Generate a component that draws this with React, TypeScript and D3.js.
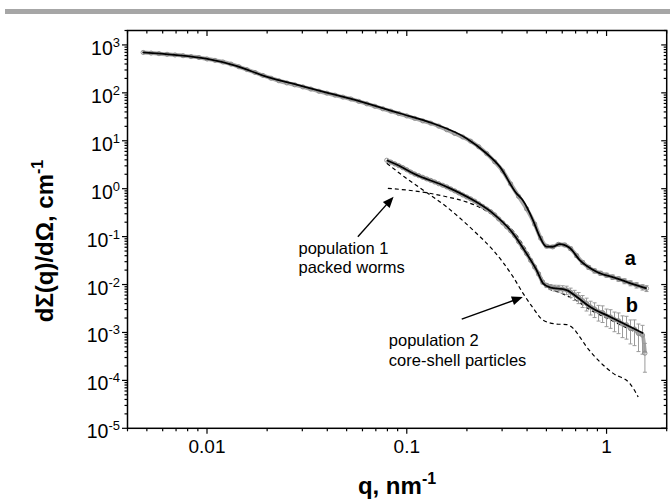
import React from 'react';
import * as d3 from 'd3';

const W = 670;
const H = 504;
const FONT = "Arial, 'Liberation Sans', Helvetica, sans-serif";

// axis ticks
const xTickValues = [0.01, 0.1, 1];
const xTickLabels = ['0.01', '0.1', '1'];
const yTickExponents = [-5, -4, -3, -2, -1, 0, 1, 2, 3];

// curve a: measured data [q, I, relative error]
const aData: [number, number, number][] = [
  [0.00479, 697, 0], [0.00525, 676, 0], [0.00575, 658, 0], [0.00631, 637, 0],
  [0.00692, 617, 0], [0.00759, 596, 0], [0.00832, 571, 0], [0.00912, 546, 0],
  [0.0100, 510, 0], [0.01096, 476, 0], [0.01202, 440, 0], [0.01318, 398, 0],
  [0.01445, 350, 0], [0.01585, 305, 0], [0.01738, 266, 0], [0.01905, 231, 0],
  [0.0209, 202, 0], [0.0229, 179, 0], [0.0251, 161, 0], [0.0275, 147, 0],
  [0.0302, 133, 0], [0.0331, 120, 0], [0.0363, 108, 0], [0.0398, 98.5, 0],
  [0.0437, 89.5, 0], [0.0479, 81.5, 0], [0.0525, 74.5, 0], [0.0575, 66.5, 0],
  [0.0631, 59.0, 0], [0.0692, 52.5, 0], [0.0759, 46.5, 0], [0.0832, 41.5, 0],
  [0.0912, 37.0, 0], [0.100, 33.0, 0], [0.1096, 29.3, 0], [0.1202, 26.0, 0],
  [0.1318, 23.3, 0], [0.1445, 20.2, 0], [0.1585, 17.0, 0], [0.1738, 14.2, 0],
  [0.1905, 12.0, 0], [0.2089, 9.8, 0], [0.2291, 7.5, 0], [0.2512, 5.4, 0],
  [0.2754, 3.65, 0], [0.302, 2.34, 0], [0.331, 1.26, 0.04], [0.363, 0.69, 0.05],
  [0.398, 0.38, 0.05], [0.437, 0.182, 0.06], [0.468, 0.093, 0.06], [0.501, 0.063, 0.07],
  [0.537, 0.061, 0.07], [0.575, 0.069, 0.07], [0.617, 0.067, 0.08], [0.661, 0.056, 0.08],
  [0.708, 0.040, 0.08], [0.759, 0.0288, 0.09], [0.813, 0.0229, 0.09], [0.871, 0.0193, 0.1],
  [0.933, 0.0172, 0.1], [1.000, 0.0157, 0.1], [1.072, 0.0143, 0.11], [1.148, 0.0131, 0.11],
  [1.230, 0.0118, 0.12], [1.318, 0.0107, 0.12], [1.413, 0.0097, 0.13], [1.514, 0.0088, 0.13],
  [1.585, 0.0083, 0.14],
];

// curve a: model fit [q, I]
const aFit: [number, number][] = [
  [0.00475, 697], [0.00686, 618], [0.00989, 515], [0.0140, 365], [0.0198, 218],
  [0.0290, 143], [0.0410, 98], [0.0516, 77], [0.092, 37.5], [0.1346, 23.2],
  [0.1986, 11.3], [0.250, 5.48], [0.292, 2.88], [0.354, 0.80], [0.380, 0.58],
  [0.428, 0.222], [0.463, 0.0995], [0.500, 0.0616], [0.538, 0.0615], [0.583, 0.070],
  [0.655, 0.0578], [0.734, 0.0324], [0.891, 0.0185], [1.122, 0.0135], [1.355, 0.0102],
  [1.587, 0.0083],
];

// curve b: measured data [q, I, relative error]
const bData: [number, number, number][] = [
  [0.0794, 3.92, 0], [0.0832, 3.59, 0], [0.0871, 3.30, 0], [0.0912, 3.03, 0],
  [0.0955, 2.75, 0], [0.100, 2.48, 0], [0.1047, 2.22, 0], [0.1096, 2.02, 0],
  [0.1148, 1.87, 0], [0.1202, 1.73, 0], [0.1259, 1.60, 0], [0.1318, 1.49, 0],
  [0.138, 1.38, 0], [0.1445, 1.27, 0], [0.1514, 1.18, 0], [0.1585, 1.09, 0],
  [0.166, 0.99, 0], [0.1738, 0.90, 0], [0.182, 0.817, 0], [0.1905, 0.741, 0],
  [0.1995, 0.673, 0], [0.2089, 0.612, 0], [0.2188, 0.550, 0], [0.2291, 0.484, 0],
  [0.2399, 0.427, 0], [0.2512, 0.376, 0], [0.263, 0.331, 0], [0.2754, 0.284, 0],
  [0.2884, 0.234, 0], [0.302, 0.194, 0], [0.3162, 0.160, 0], [0.3311, 0.132, 0],
  [0.3467, 0.105, 0], [0.3631, 0.0785, 0.03], [0.3802, 0.0589, 0.03], [0.398, 0.0441, 0.04],
  [0.417, 0.032, 0.05], [0.4365, 0.0232, 0.06], [0.457, 0.0166, 0.07], [0.4786, 0.0112, 0.08],
  [0.501, 0.0096, 0.1], [0.5248, 0.0089, 0.12], [0.5495, 0.0085, 0.14], [0.5754, 0.0083, 0.16],
  [0.6026, 0.0080, 0.18], [0.631, 0.0077, 0.2], [0.6607, 0.0069, 0.22], [0.6918, 0.0061, 0.24],
  [0.7244, 0.0054, 0.26], [0.7586, 0.0046, 0.28], [0.7943, 0.0040, 0.3], [0.8318, 0.0034, 0.32],
  [0.871, 0.0031, 0.34], [0.912, 0.0027, 0.36], [0.955, 0.0026, 0.38], [1.000, 0.0022, 0.4],
  [1.047, 0.0021, 0.42], [1.096, 0.00185, 0.44], [1.148, 0.00175, 0.46], [1.202, 0.00150, 0.48],
  [1.259, 0.00145, 0.5], [1.318, 0.00120, 0.52], [1.380, 0.00118, 0.55], [1.445, 0.00095, 0.58],
  [1.514, 0.00088, 0.6], [1.556, 0.00037, 0.6],
];

// curve b: model fit [q, I]
const bFit: [number, number][] = [
  [0.0794, 3.92], [0.092, 2.98], [0.1074, 2.10], [0.158, 1.10], [0.2145, 0.58],
  [0.270, 0.306], [0.340, 0.117], [0.397, 0.0448], [0.446, 0.0201], [0.481, 0.0106],
  [0.520, 0.00875], [0.631, 0.00768], [0.708, 0.00556], [0.825, 0.00344], [1.039, 0.00213],
  [1.259, 0.00143], [1.526, 0.00096],
];

// population 1 (packed worms) [q, I]
const pop1: [number, number][] = [
  [0.0804, 1.02], [0.1253, 0.825], [0.158, 0.68], [0.1986, 0.53], [0.2145, 0.47],
  [0.270, 0.282], [0.354, 0.108], [0.413, 0.039], [0.463, 0.0166], [0.508, 0.0085],
  [0.583, 0.0068], [0.695, 0.0048], [0.825, 0.0030], [1.039, 0.00185], [1.52, 0.00085],
];

// population 2 (core-shell particles) [q, I]
const pop2: [number, number][] = [
  [0.0794, 3.4], [0.0975, 1.75], [0.1205, 0.94], [0.158, 0.42], [0.2145, 0.137],
  [0.270, 0.0525], [0.340, 0.0146], [0.382, 0.00655], [0.429, 0.00323], [0.481, 0.00181],
  [0.561, 0.0015], [0.631, 0.00146], [0.681, 0.00122], [0.734, 0.00081], [0.794, 0.000502],
  [0.925, 0.000244], [1.079, 0.00014], [1.309, 0.000086], [1.44, 0.000045],
];

// annotations (data coordinates)
const arrows = [
  { from: [0.0569, 0.0995], to: [0.0859, 0.681] },
  { from: [0.1884, 0.0019], to: [0.381, 0.00548] },
];
const notes = [
  { q: 0.0287, I: 0.0434, lines: ['population 1', 'packed worms'] },
  { q: 0.0813, I: 0.00052, lines: ['population 2', 'core-shell particles'] },
];
const curveLabels = [
  { q: 1.235, I: 0.0255, text: 'a' },
  { q: 1.249, I: 0.0027, text: 'b' },
];

export default function App() {
  const left = 127.5, right = 666.7, top = 30.5, bottom = 428.3;
  const x = d3.scaleLog().domain([0.004, 2]).range([left, right]);
  const y = d3.scaleLog().domain([1e-5, 2e3]).range([bottom, top]);

  const line = d3
    .line<[number, number]>()
    .x((d) => x(d[0]))
    .y((d) => y(d[1]))
    .curve(d3.curveMonotoneX);

  const xTicks: { v: number; major: boolean }[] = [];
  for (let e = -3; e <= 0; e++) {
    for (let k = 1; k <= 9; k++) {
      const v = k * Math.pow(10, e);
      if (v >= 0.004 && v <= 2.0001) xTicks.push({ v, major: k === 1 });
    }
  }
  const yTicks: { v: number; major: boolean }[] = [];
  for (let e = -5; e <= 3; e++) {
    for (let k = 1; k <= 9; k++) {
      const v = k * Math.pow(10, e);
      if (v >= 1e-5 && v <= 2000.001) yTicks.push({ v, major: k === 1 });
    }
  }

  const errColor = '#9a9a9a';
  const dataColor = '#8a8a8a';

  const renderData = (data: [number, number, number][], key: string) => (
    <g key={key}>
      <path
        d={line(data.map((d) => [d[0], d[1]] as [number, number])) || ''}
        fill="none"
        stroke="#a8a8a8"
        strokeWidth={4}
      />
      {data
        .filter((d) => d[2] > 0)
        .map((d, i) => {
          const cx = x(d[0]);
          const y1 = y(d[1] * (1 + d[2]));
          const y2 = y(Math.max(d[1] * (1 - d[2]), 1e-6));
          return (
            <g key={i} stroke={errColor} strokeWidth={1}>
              <line x1={cx} x2={cx} y1={y1} y2={y2} />
              <line x1={cx - 2} x2={cx + 2} y1={y1} y2={y1} />
              <line x1={cx - 2} x2={cx + 2} y1={y2} y2={y2} />
            </g>
          );
        })}
      {data.map((d, i) => (
        <circle
          key={i}
          cx={x(d[0])}
          cy={y(d[1])}
          r={2.1}
          fill="none"
          stroke={dataColor}
          strokeWidth={0.9}
        />
      ))}
    </g>
  );

  const arrowHead = (fx: number, fy: number, tx: number, ty: number) => {
    const ang = Math.atan2(ty - fy, tx - fx);
    const len = 11;
    const hw = 4.5;
    const bx = tx - len * Math.cos(ang);
    const by = ty - len * Math.sin(ang);
    const px = -Math.sin(ang) * hw;
    const py = Math.cos(ang) * hw;
    return `${tx},${ty} ${bx + px},${by + py} ${bx - px},${by - py}`;
  };

  return (
    <svg
      width={W}
      height={H}
      style={{ position: 'absolute', left: 0, top: 0, background: '#fff' }}
      fontFamily={FONT}
    >
      <rect x={5} y={9} width={665} height={5} fill="#a6a6a6" />

      {/* frame */}
      <rect x={left} y={top} width={right - left} height={bottom - top} fill="none" stroke="#000" strokeWidth={1.5} />

      {/* x ticks: bottom outward, top inward */}
      {xTicks.map((t, i) => {
        const px = x(t.v);
        const L = t.major ? 5.5 : 3;
        return (
          <g key={'xt' + i} stroke="#000" strokeWidth={1.2}>
            <line x1={px} x2={px} y1={bottom} y2={bottom + L} />
            <line x1={px} x2={px} y1={top} y2={top + L} />
          </g>
        );
      })}
      {/* y ticks: left outward, right inward */}
      {yTicks.map((t, i) => {
        const py = y(t.v);
        const L = t.major ? 5.5 : 3;
        return (
          <g key={'yt' + i} stroke="#000" strokeWidth={1.2}>
            <line x1={left - L} x2={left} y1={py} y2={py} />
            <line x1={right - L} x2={right} y1={py} y2={py} />
          </g>
        );
      })}

      {xTickValues.map((v, i) => (
        <text key={'xl' + i} x={x(v)} y={453} textAnchor="middle" fontSize={19} fill="#000">
          {xTickLabels[i]}
        </text>
      ))}
      {yTickExponents.map((e) => (
        <text key={'yl' + e} x={120} y={y(Math.pow(10, e)) + 10} textAnchor="end" fontSize={19.5} fill="#000">
          10
          <tspan dy={-8} fontSize={13}>
            {String(e)}
          </tspan>
        </text>
      ))}

      {/* axis titles */}
      <text x={397} y={494} textAnchor="middle" fontSize={24} fontWeight="bold" fill="#000">
        q, nm
        <tspan dy={-10} fontSize={16}>
          -1
        </tspan>
      </text>
      <text
        transform="translate(53,241) rotate(-90)"
        textAnchor="middle"
        fontSize={24}
        fontWeight="bold"
        fill="#000"
      >
        dΣ(q)/dΩ, cm
        <tspan dy={-10} fontSize={16}>
          -1
        </tspan>
      </text>

      {/* model components */}
      <path d={line(pop1) || ''} fill="none" stroke="#000" strokeWidth={1.2} strokeDasharray="4,3" />
      <path d={line(pop2) || ''} fill="none" stroke="#000" strokeWidth={1.2} strokeDasharray="4,3" />

      {renderData(aData, 'a')}
      {renderData(bData, 'b')}

      <path d={line(aFit) || ''} fill="none" stroke="#000" strokeWidth={1.8} />
      <path d={line(bFit) || ''} fill="none" stroke="#000" strokeWidth={1.8} />

      {/* arrows */}
      {arrows.map((a, i) => {
        const fx = x(a.from[0]), fy = y(a.from[1]);
        const tx = x(a.to[0]), ty = y(a.to[1]);
        const ang = Math.atan2(ty - fy, tx - fx);
        return (
          <g key={'ar' + i}>
            <line x1={fx} y1={fy} x2={tx - 8 * Math.cos(ang)} y2={ty - 8 * Math.sin(ang)} stroke="#000" strokeWidth={1.4} />
            <polygon points={arrowHead(fx, fy, tx, ty)} fill="#000" />
          </g>
        );
      })}

      {notes.map((n, i) => (
        <text key={'n' + i} x={x(n.q)} y={y(n.I)} fontSize={16.5} fill="#000">
          {n.lines.map((l, j) => (
            <tspan key={j} x={x(n.q)} dy={j === 0 ? 0 : 19.5}>
              {l}
            </tspan>
          ))}
        </text>
      ))}

      {curveLabels.map((c, i) => (
        <text key={'c' + i} x={x(c.q)} y={y(c.I)} fontSize={20} fontWeight="bold" fill="#000">
          {c.text}
        </text>
      ))}
    </svg>
  );
}
